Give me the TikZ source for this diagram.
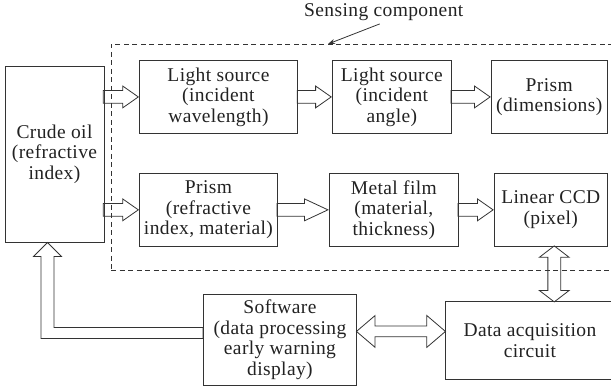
\documentclass[tikz,border=0pt]{standalone}
\usepackage{fontspec}
\setmainfont{Liberation Serif}[LetterSpace=2]
\usepackage{tikz}
\usetikzlibrary{shapes.arrows, arrows.meta, positioning, calc}
\definecolor{lineColor}{RGB}{51, 51, 51}
\definecolor{textColor}{RGB}{34, 34, 34}

\begin{document}
\begin{tikzpicture}[x=1pt, y=1pt, node distance=35pt,
    stage/.style={rectangle, draw=lineColor, line width=0.9pt, minimum height=73pt, inner sep=1pt, align=center, text=textColor, font=\fontsize{19.5}{20.5}\selectfont},
    harrow/.style={single arrow, draw=lineColor, line width=0.8pt, inner xsep=0pt, inner ysep=6pt, single arrow head extend=4.5pt, single arrow tip angle=70, minimum height=35pt, anchor=tip},
    darrow/.style={double arrow, draw=lineColor, line width=0.8pt, inner xsep=0pt}]

    \useasboundingbox (0,0) rectangle (611,387);
    \clip (0,0) rectangle (611,387);

    % sensing part
    \node (sensing) [draw=lineColor, line width=0.8pt, dash pattern=on 5pt off 3.5pt, minimum width=529pt, minimum height=226pt, inner sep=0pt, outer sep=0pt, anchor=south west] at (111,117) {};
    \node (senselbl) [anchor=base west, inner sep=1pt, text=textColor, font=\fontsize{19.5}{20.5}\selectfont] at (303,370.5) {Sensing component};
    \draw[lineColor, line width=0.8pt, -{Stealth[length=7pt, width=5pt]}] ([xshift=-4pt, yshift=-2pt]senselbl.south) -- ([xshift=217pt]sensing.north west);

    \node (crude) [stage, minimum width=99pt, minimum height=176pt] at (54.5,233) {Crude oil\\(refractive\\index)};
    \node (ls1) [stage, minimum width=158pt, anchor=north west] at (139,327) {Light source\\(incident\\wavelength)};
    \node (ls2) [stage, minimum width=119pt, right=34pt of ls1] {Light source\\(incident\\angle)};
    \node (prism1) [stage, minimum width=116pt, right=39pt of ls2] {Prism\\(dimensions)};
    \node (prism2) [stage, minimum width=138pt, below=39pt of ls1.south west, anchor=north west] {Prism\\(refractive\\index, material)};
    \node (metal) [stage, minimum width=129pt, right=51pt of prism2] {Metal film\\(material,\\thickness)};
    \node (ccd) [stage, minimum width=113pt, right=35pt of metal] {Linear CCD\\(pixel)};

    \node (soft) [stage, minimum width=153pt, minimum height=91pt, anchor=north west] at (203,93) {Software\\(data processing\\early warning\\display)};
    \node (daq) [stage, minimum width=169pt, minimum height=78pt, anchor=north west] at (445,86) {Data acquisition\\circuit};

    % block arrows
    \node (a1) [harrow] at (ls1.west) {};
    \node (a2) [harrow, minimum height=34pt] at (ls2.west) {};
    \node (a3) [harrow, minimum height=39pt] at (prism1.west) {};
    \node (a4) [harrow] at (prism2.west) {};
    \node (a5) [harrow, minimum height=51pt, single arrow tip angle=50] at (metal.west) {};
    \node (a6) [harrow] at (ccd.west) {};

    \node (link) [darrow, inner ysep=5pt, double arrow head extend=10.5pt, double arrow tip angle=81, minimum height=89pt, yshift=8.5pt] at ($(soft.east)!.5!(daq.west |- soft.east)$) {};
    \node (bus) [darrow, shape border rotate=90, inner sep=6pt, double arrow head extend=8.5pt, double arrow tip angle=105, minimum height=56pt, xshift=3.5pt] at ($(ccd.south)!.5!(ccd.south |- daq.north)$) {};

    % feedback to crude oil
    \coordinate (fbtip) at ([xshift=-7pt]crude.south);
    \draw[lineColor, line width=0.8pt, line join=miter] (fbtip) -- ++(14pt,-14pt) -- ++(-7.5pt,0) |- ([yshift=12.5pt]soft.west)
        -- ([yshift=1.5pt]soft.west) -| ($(fbtip)+(-6.5pt,-14pt)$) -- ++(-7.5pt,0) -- cycle;

\end{tikzpicture}
\end{document}
